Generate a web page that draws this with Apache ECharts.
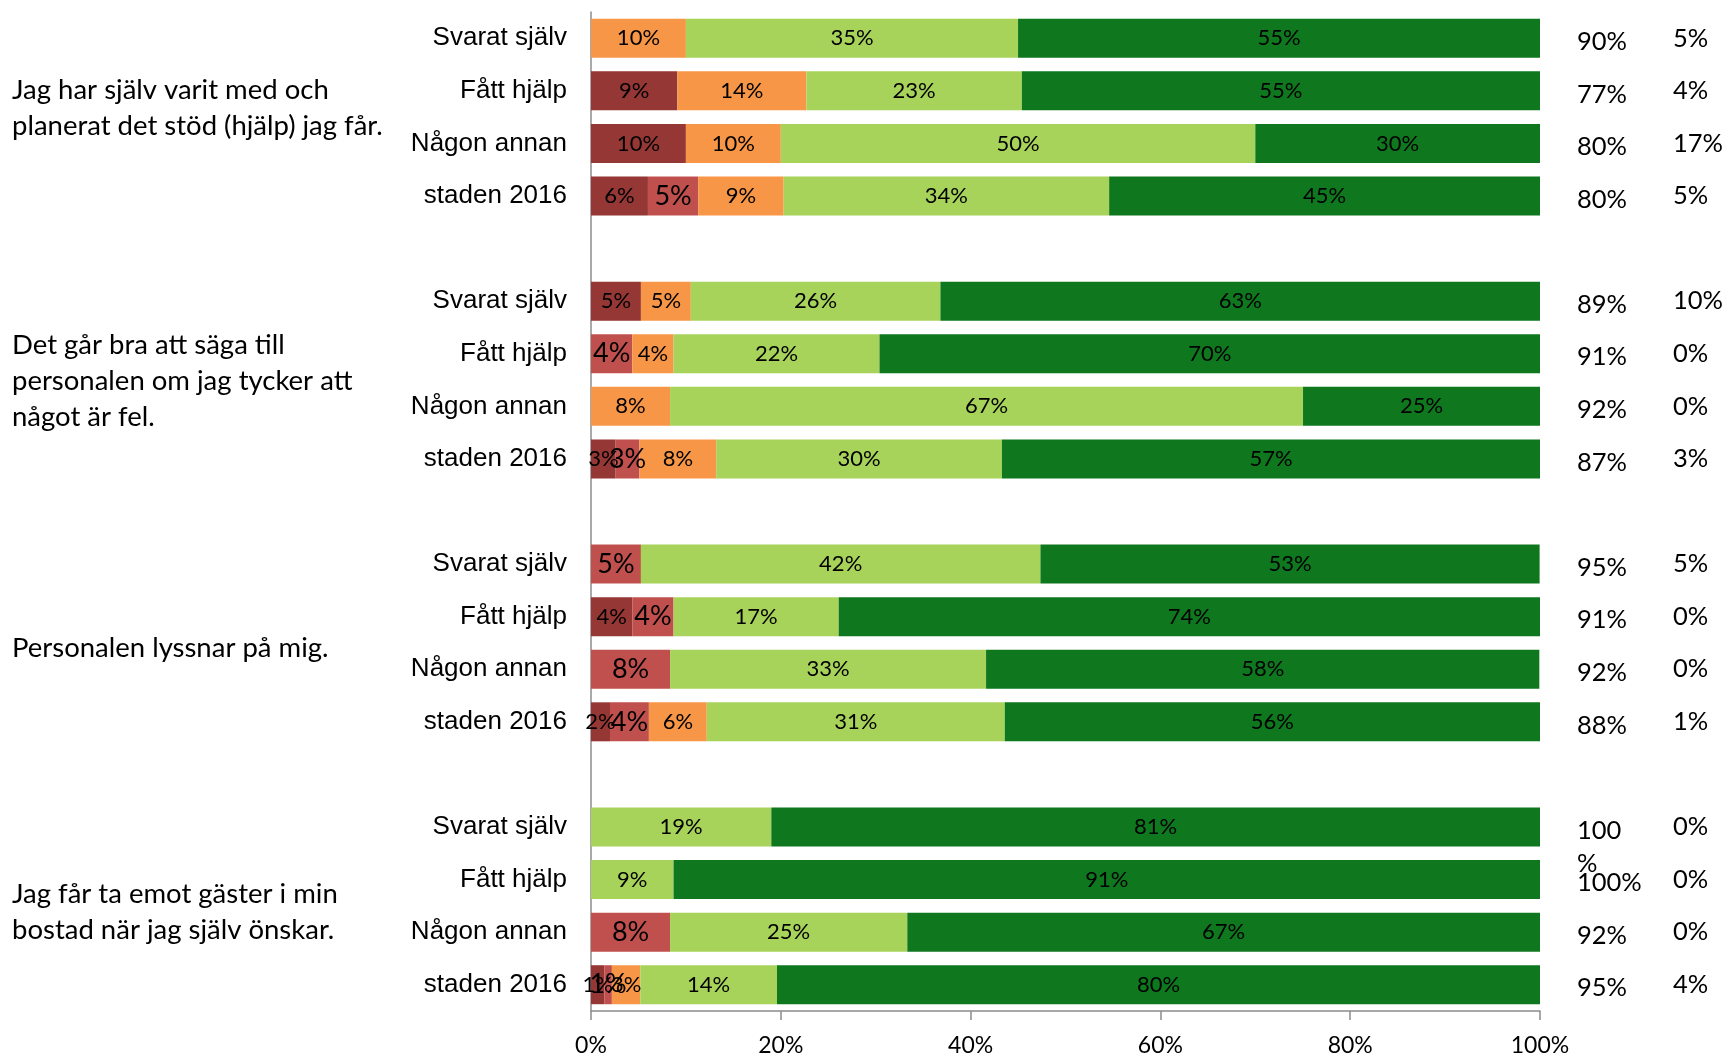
<!DOCTYPE html>
<html>
<head>
<meta charset="utf-8">
<script src="https://cdn.jsdelivr.net/npm/echarts@6/dist/echarts.min.js"></script>
<style>
  html, body { margin: 0; padding: 0; background: #fff; }
  #chart { width: 1725px; height: 1056px; }
</style>
</head>
<body>
<div id="chart"></div>
<script>
// ---- data ----
const categories = [
  'Svarat själv', 'Fått hjälp', 'Någon annan', 'staden 2016', '',
  'Svarat själv', 'Fått hjälp', 'Någon annan', 'staden 2016', '',
  'Svarat själv', 'Fått hjälp', 'Någon annan', 'staden 2016', '',
  'Svarat själv', 'Fått hjälp', 'Någon annan', 'staden 2016'
];
const darkRed    = [null, 9.1, 10, 6.0, null,  5.26, null, null, 2.6, null,  null, 4.35, null, 2.0, null,  null, null, null, 1.4];
const red        = [null, null, null, 5.3, null,  null, 4.35, null, 2.5, null,  5.26, 4.35, 8.33, 4.1, null,  null, null, 8.33, 0.8];
const orange     = [10, 13.6, 10, 9.0, null,  5.26, 4.35, 8.33, 8.1, null,  null, null, null, 6.1, null,  null, null, null, 3.0];
const lightGreen = [35, 22.7, 50, 34.3, null,  26.3, 21.7, 66.7, 30.1, null,  42.1, 17.4, 33.3, 31.4, null,  19.0, 8.7, 25, 14.4];
const darkGreen  = [55, 54.6, 30, 45.4, null,  63.2, 69.6, 25, 56.7, null,  52.6, 73.9, 58.3, 56.4, null,  81.0, 91.3, 66.7, 80.4];
const rightCol1  = ['90%', '77%', '80%', '80%', '',  '89%', '91%', '92%', '87%', '',  '95%', '91%', '92%', '88%', '',  '100\n%', '100%', '92%', '95%'];
const rightCol2  = ['5%', '4%', '17%', '5%', '',  '10%', '0%', '0%', '3%', '',  '5%', '0%', '0%', '1%', '',  '0%', '0%', '0%', '4%'];
const groupLabels = [
  'Jag har själv varit med och\nplanerat det stöd (hjälp) jag får.',
  'Det går bra att säga till\npersonalen om jag tycker att\nnågot är fel.',
  'Personalen lyssnar på mig.',
  'Jag får ta emot gäster i min\nbostad när jag själv önskar.'
];
const xTicks = { min: 0, max: 100, interval: 20 };

// ---- chart ----
const colors = ['#953735', '#C0504D', '#F79646', '#A8D35A', '#0F771E'];
const chart = echarts.init(document.getElementById('chart'), null, { renderer: 'canvas' });

function mkSeries(name, data, color, fontSize) {
  return {
    name: name,
    type: 'bar',
    stack: 'all',
    data: data,
    barWidth: 39,
    itemStyle: { color: color },
    label: {
      show: true,
      position: 'inside',
      color: '#000',
      fontFamily: 'Lato',
      fontSize: fontSize,
      formatter: p => (p.value == null ? '' : Math.round(p.value) + '%')
    },
    emphasis: { disabled: true },
    animation: false
  };
}

const option = {
  animation: false,
  grid: { left: 591, right: 185, top: 12, bottom: 45, containLabel: false, outerBoundsMode: 'none' },
  xAxis: {
    type: 'value',
    min: xTicks.min, max: xTicks.max, interval: xTicks.interval,
    axisLine: { show: true, lineStyle: { color: '#8c8c8c', width: 1.5 } },
    axisTick: { show: true, length: 9, lineStyle: { color: '#8c8c8c', width: 1.5 } },
    splitLine: { show: false },
    axisLabel: { formatter: '{value}%', color: '#000', fontFamily: 'Lato', fontSize: 23, margin: 23 }
  },
  yAxis: [
    {
      type: 'category', data: categories, inverse: true,
      axisLine: { show: true, lineStyle: { color: '#8c8c8c', width: 1.5 } },
      axisTick: { show: false },
      axisLabel: { color: '#000', fontFamily: 'Liberation Sans', fontSize: 26, margin: 24 }
    },
    {
      type: 'category', data: rightCol1, inverse: true, position: 'right',
      axisLine: { show: false }, axisTick: { show: false },
      axisLabel: {
        color: '#000', fontFamily: 'Lato', fontSize: 25.5, margin: 37, align: 'left',
        verticalAlign: 'top',
        formatter: v => v.split('\n').map((s, i) => (i === 0 ? '{a|' : '{c|') + s + '}').join('\n'),
        rich: {
          a: { fontFamily: 'Lato', fontSize: 25.5, color: '#000', lineHeight: 7 },
          c: { fontFamily: 'Lato', fontSize: 25.5, color: '#000', lineHeight: 60 }
        }
      }
    },
    {
      type: 'category', data: rightCol2, inverse: true, position: 'right',
      axisLine: { show: false }, axisTick: { show: false },
      axisLabel: { color: '#000', fontFamily: 'Lato', fontSize: 25.5, margin: 133, align: 'left' }
    }
  ],
  series: [
    mkSeries('darkRed', darkRed, colors[0], 22),
    mkSeries('red', red, colors[1], 27),
    mkSeries('orange', orange, colors[2], 22),
    mkSeries('lightGreen', lightGreen, colors[3], 22),
    mkSeries('darkGreen', darkGreen, colors[4], 22)
  ]
};
chart.setOption(option);

// group labels placed at the centre of each group's categories
const groupOffsets = [-9, 1, 5, 6];
const LH = 36;
const graphics = groupLabels.map((txt, g) => {
  const y1 = chart.convertToPixel({ yAxisIndex: 0 }, g * 5 + 1);
  const y2 = chart.convertToPixel({ yAxisIndex: 0 }, g * 5 + 2);
  const cy = (y1 + y2) / 2 + groupOffsets[g];
  const n = txt.split('\n').length;
  return {
    type: 'text',
    left: 12,
    top: cy - n * LH / 2,
    style: {
      text: txt,
      font: '27.5px Lato',
      fill: '#000',
      lineHeight: LH
    }
  };
});
chart.setOption({ graphic: graphics });
</script>
</body>
</html>
